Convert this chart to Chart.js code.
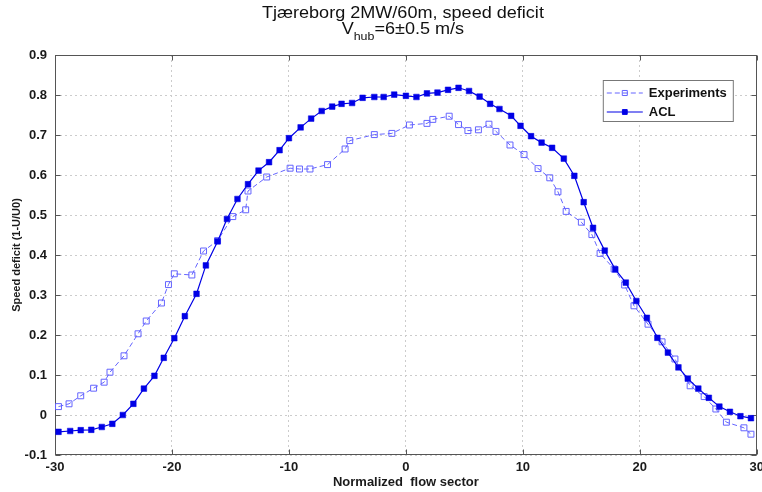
<!DOCTYPE html>
<html>
<head>
<meta charset="utf-8">
<script src="https://cdn.jsdelivr.net/npm/chart.js@4.4.1/dist/chart.umd.min.js"></script>
<style>
  html, body { margin: 0; padding: 0; background: #fff; }
  canvas { display: block; }
</style>
</head>
<body>
<canvas id="wakeChart" width="762" height="492"></canvas>
<script>
const xTicks = [-30, -20, -10, 0, 10, 20, 30];
const yTicks = [-0.1, 0, 0.1, 0.2, 0.3, 0.4, 0.5, 0.6, 0.7, 0.8, 0.9];

// measured deficit, normalized flow sector
const expSector = [-29.7, -28.8, -27.8, -26.7, -25.8, -25.3, -24.1, -22.9, -22.2, -20.9,
  -20.3, -19.8, -18.3, -17.3, -16.1, -14.8, -13.7, -13.5, -11.9, -9.9,
  -9.1, -8.2, -6.7, -5.2, -4.8, -2.7, -1.2, 0.3, 1.8, 2.3,
  3.7, 4.5, 5.3, 6.2, 7.1, 7.7, 8.9, 10.1, 11.3, 12.3,
  13.0, 13.7, 15.0, 15.9, 16.6, 17.8, 18.7, 19.5, 20.7, 21.9,
  23.0, 24.3, 25.5, 26.5, 27.4, 28.9, 29.5];
const expDeficit = [0.021, 0.028, 0.048, 0.067, 0.082, 0.107, 0.148, 0.203, 0.235, 0.28,
  0.326, 0.353, 0.35, 0.41, 0.436, 0.496, 0.513, 0.56, 0.595, 0.617,
  0.615, 0.615, 0.626, 0.665, 0.686, 0.701, 0.704, 0.725, 0.729, 0.739,
  0.747, 0.726, 0.711, 0.713, 0.727, 0.709, 0.675, 0.651, 0.616, 0.593,
  0.558, 0.509, 0.482, 0.451, 0.404, 0.365, 0.325, 0.273, 0.227, 0.183,
  0.14, 0.073, 0.046, 0.015, -0.018, -0.032, -0.048];

// ACL model
const aclSector = [-29.7, -28.7, -27.8, -26.9, -26.0, -25.1, -24.2, -23.3, -22.4, -21.5,
  -20.7, -19.8, -18.9, -17.9, -17.1, -16.1, -15.3, -14.4, -13.5, -12.6,
  -11.7, -10.8, -10.0, -9.0, -8.1, -7.2, -6.3, -5.5, -4.6, -3.7,
  -2.7, -1.9, -1.0, 0.0, 0.9, 1.8, 2.7, 3.6, 4.5, 5.4,
  6.3, 7.2, 8.0, 9.0, 9.8, 10.7, 11.6, 12.5, 13.5, 14.4,
  15.2, 16.0, 17.0, 17.9, 18.8, 19.7, 20.6, 21.5, 22.4,
  23.3, 24.1, 25.0, 25.9, 26.8, 27.7, 28.6, 29.5];
const aclDeficit = [-0.042, -0.040, -0.038, -0.037, -0.030, -0.022, 0.0, 0.028, 0.066, 0.098,
  0.143, 0.192, 0.247, 0.303, 0.374, 0.434, 0.49, 0.54, 0.577, 0.611,
  0.632, 0.662, 0.692, 0.719, 0.741, 0.76, 0.771, 0.778, 0.78, 0.793,
  0.795, 0.795, 0.801, 0.798, 0.795, 0.804, 0.806, 0.813, 0.818, 0.81,
  0.796, 0.778, 0.765, 0.748, 0.723, 0.697, 0.681, 0.668, 0.641, 0.598,
  0.532, 0.468, 0.411, 0.364, 0.331, 0.285, 0.243, 0.193, 0.156,
  0.119, 0.091, 0.066, 0.043, 0.021, 0.008, -0.003, -0.008];

const FONT = "'Liberation Sans', Arial, sans-serif";
const pairs = (xs, ys) => xs.map((x, i) => ({ x: x, y: ys[i] }));

// two-line title with subscript (matlab style)
const titlePlugin = {
  id: 'matlabTitle',
  afterDraw(chart) {
    const ctx = chart.ctx;
    const cx = (chart.chartArea.left + chart.chartArea.right) / 2 - 3;
    ctx.save();
    ctx.fillStyle = '#111';
    ctx.textBaseline = 'alphabetic';
    ctx.font = '16px ' + FONT;
    const l1 = 'Tj\u00e6reborg 2MW/60m, speed deficit';
    const sx = 282 / ctx.measureText(l1).width;
    ctx.save();
    ctx.translate(cx, 18);
    ctx.scale(sx, 1);
    ctx.textAlign = 'center';
    ctx.fillText(l1, 0, 0);
    ctx.restore();

    const wV = ctx.measureText('V').width;
    const rest = '=6\u00b10.5 m/s';
    const wR = ctx.measureText(rest).width;
    ctx.font = '11px ' + FONT;
    const wH = ctx.measureText('hub').width;
    const total = (wV + wH + wR) * sx;
    ctx.translate(cx - total / 2, 34);
    ctx.scale(sx, 1);
    ctx.textAlign = 'left';
    ctx.font = '16px ' + FONT;
    ctx.fillText('V', 0, 0);
    ctx.font = '11px ' + FONT;
    ctx.fillText('hub', wV, 6);
    ctx.font = '16px ' + FONT;
    ctx.fillText(rest, wV + wH, 0);
    ctx.restore();
  }
};

// box around the axes with inward ticks
const axesBox = {
  id: 'axesBox',
  beforeDatasetsDraw(chart) {
    const { ctx, chartArea: a, scales } = chart;
    const L = Math.round(a.left) + 0.5, R = Math.round(a.right) - 0.5;
    const T = Math.round(a.top) + 0.5, B = Math.round(a.bottom) - 0.5;
    ctx.save();
    ctx.strokeStyle = '#555';
    ctx.lineWidth = 1;
    ctx.strokeRect(L, T, R - L, B - T);
    ctx.beginPath();
    xTicks.forEach(v => {
      const p = Math.round(scales.x.getPixelForValue(v)) + 0.5;
      ctx.moveTo(p, B); ctx.lineTo(p, B - 5);
      ctx.moveTo(p, T); ctx.lineTo(p, T + 5);
    });
    yTicks.forEach(v => {
      const p = Math.round(scales.y.getPixelForValue(v)) + 0.5;
      ctx.moveTo(L, p); ctx.lineTo(L + 5, p);
      ctx.moveTo(R, p); ctx.lineTo(R - 5, p);
    });
    ctx.stroke();
    ctx.restore();
  }
};

const legendBox = {
  id: 'legendBox',
  afterDraw(chart) {
    const { ctx, chartArea } = chart;
    const bx = chartArea.right - 154, by = chartArea.top + 25, bw = 130, bh = 41;
    ctx.save();
    ctx.fillStyle = '#fff';
    ctx.fillRect(bx, by, bw, bh);
    ctx.strokeStyle = '#777';
    ctx.lineWidth = 1;
    ctx.strokeRect(bx + 0.5, by + 0.5, bw, bh);
    const order = [1, 0];
    order.forEach((di, row) => {
      const ds = chart.data.datasets[di];
      const cy = by + 13 + row * 19;
      ctx.save();
      ctx.strokeStyle = ds.borderColor;
      ctx.lineWidth = ds.borderWidth;
      ctx.setLineDash(ds.borderDash || []);
      ctx.beginPath();
      ctx.moveTo(bx + 4, cy);
      ctx.lineTo(bx + 40, cy);
      ctx.stroke();
      ctx.restore();
      ctx.save();
      ctx.fillStyle = ds.pointBackgroundColor;
      ctx.strokeStyle = ds.pointBorderColor;
      Chart.helpers.drawPoint(ctx, {
        pointStyle: 'rect', rotation: 0, radius: ds.pointRadius * 0.85,
        borderWidth: ds.pointBorderWidth
      }, bx + 22, cy);
      ctx.restore();
      ctx.fillStyle = '#111';
      ctx.font = 'bold 13px ' + FONT;
      ctx.textBaseline = 'middle';
      ctx.fillText(ds.label, bx + 46, cy);
    });
    ctx.restore();
  }
};

new Chart(document.getElementById('wakeChart'), {
  type: 'line',
  data: {
    datasets: [{
      label: 'ACL',
      data: pairs(aclSector, aclDeficit),
      order: 0,
      borderColor: '#0000e6',
      borderWidth: 1.2,
      pointStyle: 'rect',
      pointRadius: 4,
      pointBorderWidth: 0.5,
      pointBackgroundColor: '#0000e6',
      pointBorderColor: '#0000e6',
      tension: 0
    }, {
      label: 'Experiments',
      data: pairs(expSector, expDeficit),
      order: 1,
      borderColor: '#6464ff',
      borderWidth: 1,
      borderDash: [5, 3],
      pointStyle: 'rect',
      pointRadius: 4.2,
      pointBorderWidth: 1,
      pointBackgroundColor: 'rgba(255,255,255,0)',
      pointBorderColor: '#6464ff',
      tension: 0
    }]
  },
  options: {
    responsive: false,
    animation: false,
    layout: { padding: { top: 55, right: 5, left: 0, bottom: 0 } },
    plugins: {
      legend: { display: false },
      tooltip: { enabled: false }
    },
    scales: {
      x: {
        type: 'linear',
        min: -30,
        max: 30,
        afterBuildTicks: s => { s.ticks = xTicks.map(v => ({ value: v })); },
        afterFit: s => { s.height = 37; s.paddingLeft = 0; s.paddingRight = 0; },
        grid: { color: '#cccccc', drawTicks: false },
        border: { display: false, dash: [2, 3] },
        ticks: {
          padding: 5,
          maxRotation: 0,
          color: '#1a1a1a',
          font: { family: FONT, size: 13, weight: 'bold' },
          callback: v => String(v)
        },
        title: {
          display: true,
          text: 'Normalized  flow sector',
          color: '#1a1a1a',
          padding: { top: 0, bottom: 2 },
          font: { family: FONT, size: 13, weight: 'bold' }
        }
      },
      y: {
        min: -0.1,
        max: 0.9,
        afterBuildTicks: s => { s.ticks = yTicks.map(v => ({ value: v })); },
        afterFit: s => { s.width = 55; s.paddingTop = 0; s.paddingBottom = 0; },
        grid: { color: '#cccccc', drawTicks: false },
        border: { display: false, dash: [2, 3] },
        ticks: {
          padding: 8,
          color: '#1a1a1a',
          font: { family: FONT, size: 13, weight: 'bold' },
          callback: v => String(v)
        },
        title: {
          display: true,
          text: 'Speed deficit (1-U/U0)',
          color: '#1a1a1a',
          padding: { top: 10, bottom: 0 },
          font: { family: FONT, size: 11, weight: 'bold' }
        }
      }
    }
  },
  plugins: [axesBox, titlePlugin, legendBox]
});
</script>
</body>
</html>
